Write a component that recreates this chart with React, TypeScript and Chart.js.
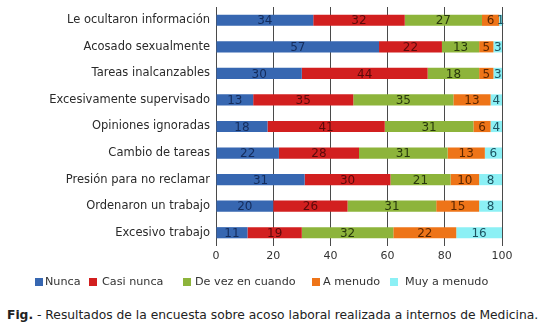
import React, { useEffect, useRef } from "react";
import { Chart, registerables } from "chart.js";

Chart.register(...registerables);

const categories = [
  "Le ocultaron información",
  "Acosado sexualmente",
  "Tareas inalcanzables",
  "Excesivamente supervisado",
  "Opiniones ignoradas",
  "Cambio de tareas",
  "Presión para no reclamar",
  "Ordenaron un trabajo",
  "Excesivo trabajo",
];
const seriesNames = ["Nunca", "Casi nunca", "De vez en cuando", "A menudo", "Muy a menudo"];
const nunca = [34, 57, 30, 13, 18, 22, 31, 20, 11];
const casiNunca = [32, 22, 44, 35, 41, 28, 30, 26, 19];
const deVezEnCuando = [27, 13, 18, 35, 31, 31, 21, 31, 32];
const aMenudo = [6, 5, 5, 13, 6, 13, 10, 15, 22];
const muyAMenudo = [1, 3, 3, 4, 4, 6, 8, 8, 16];
const xTickValues = [0, 20, 40, 60, 80, 100];

const fillColors = ["#3767b1", "#d21f1f", "#8db43b", "#ee7418", "#8cf0f5"];
const labelColors = ["#142c5c", "#5a0a0a", "#28380c", "#5a2600", "#1c5462"];

const FONT = "'DejaVu Sans', Verdana, sans-serif";

const legendBoxX = [35, 89, 183, 312, 390];
const legendTextX = [45, 102, 195, 323, 405];

const valueLabelsPlugin = {
  id: "valueLabels",
  afterDatasetsDraw(chart: any) {
    const ctx = chart.ctx;
    ctx.save();
    ctx.font = `12px ${FONT}`;
    ctx.textAlign = "center";
    ctx.textBaseline = "middle";
    chart.data.datasets.forEach((ds: any, di: number) => {
      const meta = chart.getDatasetMeta(di);
      meta.data.forEach((el: any, i: number) => {
        const v = ds.data[i];
        const cx = (el.x + el.base) / 2;
        ctx.fillStyle = labelColors[di];
        ctx.fillText(String(v), cx, el.y + 1);
      });
    });
    ctx.restore();
  },
};

const legendPlugin = {
  id: "customLegend",
  afterDraw(chart: any) {
    const ctx = chart.ctx;
    ctx.save();
    ctx.font = `11.2px ${FONT}`;
    ctx.textBaseline = "middle";
    ctx.textAlign = "left";
    const y = 282;
    chart.data.datasets.forEach((ds: any, di: number) => {
      ctx.fillStyle = fillColors[di];
      ctx.fillRect(legendBoxX[di], y - 4, 8, 8);
      ctx.fillStyle = "#333333";
      ctx.fillText(ds.label, legendTextX[di], y);
    });
    ctx.restore();
  },
};

export default function App() {
  const ref = useRef<HTMLCanvasElement | null>(null);

  useEffect(() => {
    document.body.style.margin = "0";
    if (!ref.current) return;
    const seriesData = [nunca, casiNunca, deVezEnCuando, aMenudo, muyAMenudo];
    const chart = new Chart(ref.current, {
      type: "bar",
      data: {
        labels: categories,
        datasets: seriesNames.map((name, i) => ({
          label: name,
          data: seriesData[i],
          backgroundColor: fillColors[i],
          borderWidth: 0,
          barPercentage: 0.42,
          categoryPercentage: 1,
        })),
      },
      options: {
        indexAxis: "y",
        responsive: false,
        animation: false,
        layout: { padding: { top: 7, right: 47, left: 0, bottom: 0 } },
        plugins: {
          legend: { display: false },
          tooltip: { enabled: false },
          title: { display: false },
        },
        scales: {
          x: {
            stacked: true,
            min: 0,
            max: 100,
            afterBuildTicks(scale: any) {
              scale.ticks = xTickValues.map((v) => ({ value: v }));
            },
            afterFit(scale: any) {
              scale.height = 54;
            },
            grid: { color: "#4a4a4a", lineWidth: 1, drawTicks: false },
            border: { display: false },
            ticks: {
              color: "#333333",
              font: { family: FONT, size: 11 },
              padding: 4,
              maxRotation: 0,
            },
          },
          y: {
            stacked: true,
            afterFit(scale: any) {
              scale.width = 216;
              scale.paddingTop = 0;
              scale.paddingBottom = 0;
            },
            grid: { display: false, drawTicks: false },
            border: { display: false },
            ticks: {
              color: "#2a2a2a",
              font: { family: FONT, size: 11.5 },
              padding: 6,
              autoSkip: false,
            },
          },
        },
      },
      plugins: [valueLabelsPlugin, legendPlugin],
    });
    return () => chart.destroy();
  }, []);

  return (
    <div style={{ position: "relative", width: 549, height: 331, background: "#ffffff" }}>
      <canvas ref={ref} width={549} height={300} style={{ display: "block", width: 549, height: 300 }} />
      <div
        style={{
          position: "absolute",
          left: 7,
          top: 308,
          fontFamily: FONT,
          fontSize: 12.3,
          color: "#222222",
          whiteSpace: "nowrap",
          lineHeight: "15px",
        }}
      >
        <b>Fig.</b> - Resultados de la encuesta sobre acoso laboral realizada a internos de Medicina.
      </div>
    </div>
  );
}
